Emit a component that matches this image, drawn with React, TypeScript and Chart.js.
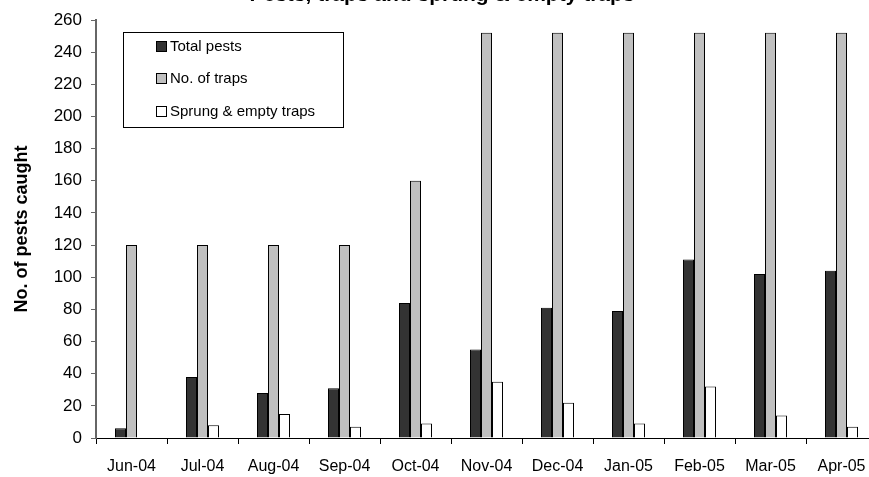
import React, { useEffect, useRef } from "react";
import { Chart, registerables } from "chart.js";

Chart.register(...registerables);

const months = ["Jun-04", "Jul-04", "Aug-04", "Sep-04", "Oct-04", "Nov-04", "Dec-04", "Jan-05", "Feb-05", "Mar-05", "Apr-05"];
const totalPests = [6, 38, 28, 31, 84, 55, 81, 79, 111, 102, 104];
const numTraps = [120, 120, 120, 120, 160, 252, 252, 252, 252, 252, 252];
const sprungEmpty = [0, 8, 15, 7, 9, 35, 22, 9, 32, 14, 7];
const seriesNames = ["Total pests", "No. of traps", "Sprung & empty traps"];
const chartTitle = "Pests, traps and sprung & empty traps";
const yAxisTitle = "No. of pests caught";

const FONT = "'Liberation Sans Narrow', 'Liberation Sans', Arial, sans-serif";

const overlayPlugin = {
  id: "overlay",
  afterDraw(chart: any) {
    const ctx = chart.ctx;
    ctx.save();
    // title (partly cut by the top edge)
    ctx.font = `bold 21px ${FONT}`;
    ctx.fillStyle = "#000";
    ctx.textAlign = "center";
    ctx.textBaseline = "alphabetic";
    ctx.fillText(chartTitle, 442, 1);
    // legend box
    const bx = 123, by = 32, bw = 220, bh = 95;
    ctx.fillStyle = "#fff";
    ctx.fillRect(bx, by, bw, bh);
    ctx.strokeStyle = "#000";
    ctx.lineWidth = 1;
    ctx.strokeRect(bx + 0.5, by + 0.5, bw, bh);
    const rows = [46, 78, 111];
    ctx.font = `15px ${FONT}`;
    ctx.textAlign = "left";
    ctx.textBaseline = "middle";
    chart.data.datasets.forEach((ds: any, i: number) => {
      const y = rows[i];
      ctx.fillStyle = ds.backgroundColor;
      ctx.fillRect(156, y - 5, 10, 10);
      ctx.strokeStyle = "#000";
      ctx.strokeRect(156.5, y - 5 + 0.5, 10, 10);
      ctx.fillStyle = "#000";
      ctx.fillText(ds.label, 170, y + 1);
    });
    ctx.restore();
  },
};

export default function App() {
  const ref = useRef<HTMLCanvasElement | null>(null);
  useEffect(() => {
    document.body.style.overflow = "hidden";
    const c = ref.current!;
    const chart = new Chart(c, {
      type: "bar",
      data: {
        labels: months,
        datasets: [
          { label: seriesNames[0], data: totalPests, backgroundColor: "#333333", borderColor: "#000", borderWidth: 1 },
          { label: seriesNames[1], data: numTraps, backgroundColor: "#c0c0c0", borderColor: "#000", borderWidth: 1 },
          { label: seriesNames[2], data: sprungEmpty, backgroundColor: "#ffffff", borderColor: "#000", borderWidth: 1 },
        ],
      },
      options: {
        animation: false,
        responsive: false,
        maintainAspectRatio: false,
        devicePixelRatio: 1,
        layout: { padding: { top: 20, right: 8, left: 0, bottom: 0 } },
        datasets: { bar: { categoryPercentage: 0.465, barPercentage: 1.0 } },
        plugins: { legend: { display: false }, title: { display: false }, tooltip: { enabled: false } },
        scales: {
          x: {
            afterFit: (s: any) => { s.height = 39; },
            grid: { drawOnChartArea: false, tickLength: 6, color: "#000", offset: true },
            border: { color: "#000", width: 1 },
            ticks: { color: "#000", font: { family: FONT, size: 16 }, padding: 13, maxRotation: 0, autoSkip: false },
          },
          y: {
            min: 0,
            max: 260,
            afterFit: (s: any) => { s.width = 96; },
            grid: { drawOnChartArea: false, tickLength: 5, color: "#666" },
            border: { color: "#666", width: 2 },
            ticks: { stepSize: 20, color: "#000", font: { family: FONT, size: 17 }, padding: 9 },
            title: { display: true, text: yAxisTitle, color: "#000", font: { family: FONT, size: 18, weight: "bold" }, padding: { top: 11, bottom: 0 } },
          },
        },
      },
      plugins: [overlayPlugin],
    });
    return () => chart.destroy();
  }, []);
  return (
    <div style={{ position: "absolute", left: 0, top: 0, width: 885, height: 477 }}>
      <canvas ref={ref} width={885} height={477} style={{ display: "block", width: 885, height: 477 }} />
    </div>
  );
}
